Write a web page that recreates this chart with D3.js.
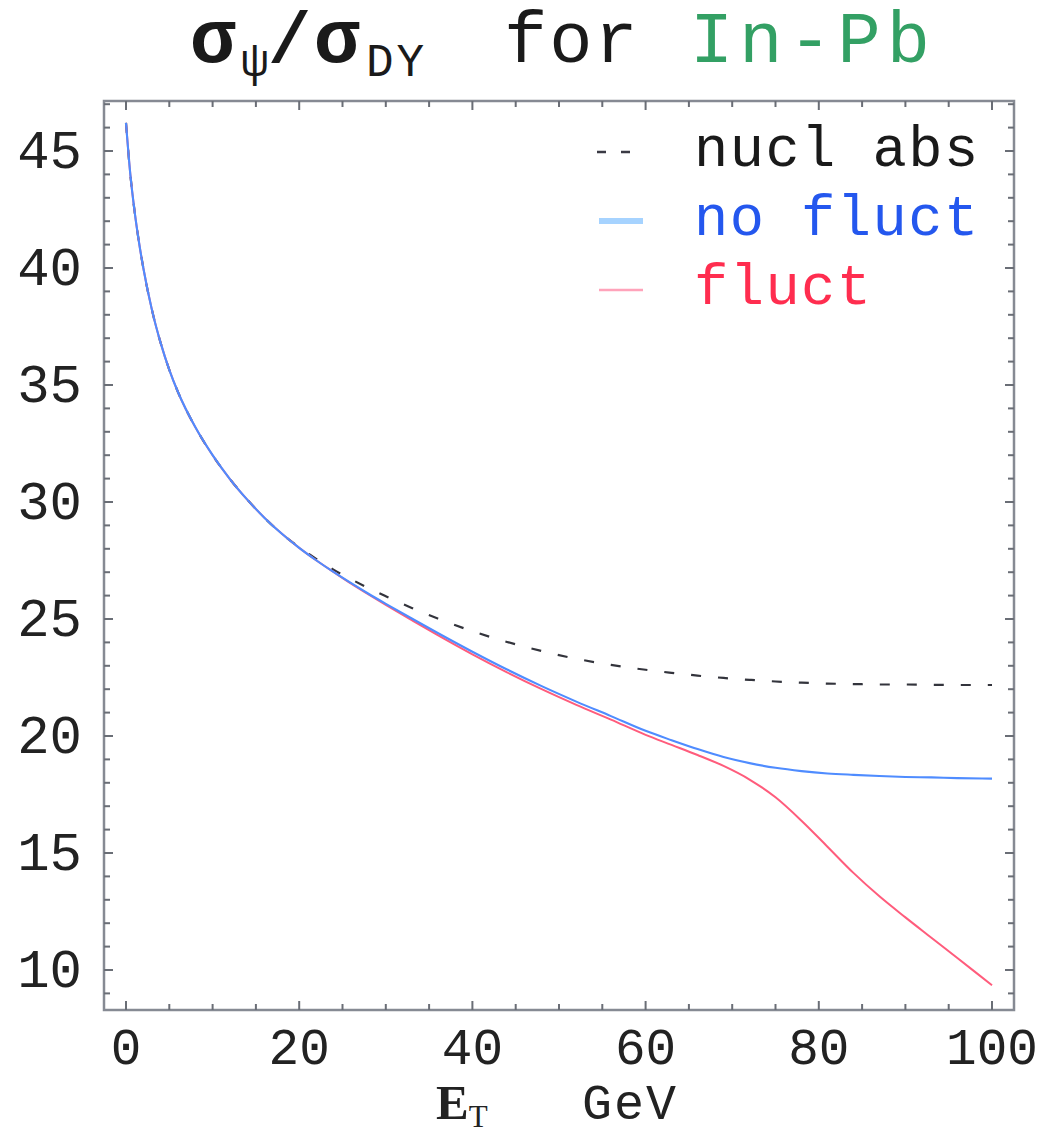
<!DOCTYPE html>
<html>
<head>
<meta charset="utf-8">
<script src="https://cdn.jsdelivr.net/npm/d3@7"></script>
<style>
  html, body { margin: 0; padding: 0; background: #fff; }
  svg { display: block; }
  text { font-family: "Liberation Mono", "DejaVu Sans Mono", monospace; }
</style>
</head>
<body>
<svg id="chart" width="1049" height="1135"></svg>
<script>
// ---- data ----
const etGrid = [0, 0.5, 1, 1.5, 2, 3, 4, 5, 6, 8, 10, 12, 14, 16, 18, 20, 22, 24, 26, 28,
                30, 33, 36, 40, 44, 48, 52, 56, 60, 63, 66, 69, 72, 75, 78, 81, 84, 87, 90, 93, 96, 100];
const noFluct = [46.2, 44.0, 42.4, 41.1, 40.0, 38.2, 36.8, 35.65, 34.7, 33.2, 32.0, 30.98, 30.1, 29.32, 28.64, 28.04, 27.5, 27.0, 26.53, 26.08,
                 25.65, 25.02, 24.4, 23.6, 22.84, 22.13, 21.47, 20.85, 20.22, 19.82, 19.44, 19.1, 18.84, 18.64, 18.5, 18.4, 18.34, 18.29, 18.25, 18.23, 18.2, 18.18];
const fluct   = [46.2, 44.0, 42.4, 41.1, 40.0, 38.2, 36.8, 35.65, 34.7, 33.2, 32.0, 30.98, 30.1, 29.32, 28.64, 28.04, 27.5, 27.0, 26.51, 26.05,
                 25.6, 24.95, 24.31, 23.49, 22.72, 22.0, 21.33, 20.7, 20.05, 19.62, 19.19, 18.72, 18.14, 17.38, 16.38, 15.27, 14.15, 13.15, 12.25, 11.38, 10.51, 9.35];
const nuclAbs = [46.2, 44.0, 42.4, 41.1, 40.0, 38.2, 36.8, 35.65, 34.7, 33.2, 32.0, 30.98, 30.1, 29.32, 28.64, 28.07, 27.56, 27.1, 26.7, 26.32,
                 25.97, 25.47, 25.02, 24.48, 24.02, 23.63, 23.3, 23.04, 22.83, 22.7, 22.58, 22.48, 22.4, 22.33, 22.28, 22.24, 22.22, 22.2, 22.2, 22.19, 22.18, 22.18];
const xTicks = [0, 20, 40, 60, 80, 100];
const yTicks = [10, 15, 20, 25, 30, 35, 40, 45];
const legendLabels = ["nucl abs", "no fluct", "fluct"];

// ---- layout ----
const svg = d3.select("#chart");
const frame = {left: 104, right: 1014, top: 101, bottom: 1010};
const x = d3.scaleLinear().domain([0, 100]).range([126, 992]);
const y = d3.scaleLinear().domain([10, 45]).range([970, 151]);

const frameColor = "#868a93";

// curves
const line = d3.line().x(d => x(d[0])).y(d => y(d[1])).curve(d3.curveMonotoneX);
const zip = vals => etGrid.map((e, i) => [e, vals[i]]);

const g = svg.append("g");
g.append("path").datum(zip(nuclAbs))
  .attr("d", line).attr("fill", "none")
  .attr("stroke", "#33343c").attr("stroke-width", 2.2)
  .attr("stroke-dasharray", "10,17");
g.append("path").datum(zip(fluct))
  .attr("d", line).attr("fill", "none")
  .attr("stroke", "#ff5c7c").attr("stroke-width", 2);
g.append("path").datum(zip(noFluct))
  .attr("d", line).attr("fill", "none")
  .attr("stroke", "#4f8cff").attr("stroke-width", 2.1);

// frame
svg.append("rect")
  .attr("x", frame.left).attr("y", frame.top)
  .attr("width", frame.right - frame.left).attr("height", frame.bottom - frame.top)
  .attr("fill", "none").attr("stroke", frameColor).attr("stroke-width", 2.5);

// ticks (inward, all four sides)
const xMinor = d3.range(0, 101, 5);
const yMinor = d3.range(9, 48, 1);
const tickG = svg.append("g").attr("stroke", "#6a6e76").attr("stroke-width", 2);
xMinor.forEach(v => {
  const len = xTicks.includes(v) ? 9 : 6;
  tickG.append("line").attr("x1", x(v)).attr("x2", x(v)).attr("y1", frame.bottom).attr("y2", frame.bottom - len);
  tickG.append("line").attr("x1", x(v)).attr("x2", x(v)).attr("y1", frame.top).attr("y2", frame.top + len);
});
yMinor.forEach(v => {
  if (y(v) < frame.top + 2 || y(v) > frame.bottom - 2) return;
  const len = yTicks.includes(v) ? 9 : 6;
  tickG.append("line").attr("y1", y(v)).attr("y2", y(v)).attr("x1", frame.left).attr("x2", frame.left + len);
  tickG.append("line").attr("y1", y(v)).attr("y2", y(v)).attr("x1", frame.right).attr("x2", frame.right - len);
});

// tick labels
svg.append("g").selectAll("text").data(xTicks).join("text")
  .attr("x", d => x(d)).attr("y", 1064)
  .attr("text-anchor", "middle").attr("font-size", 51).attr("fill", "#222")
  .text(d => d);
svg.append("g").selectAll("text").data(yTicks).join("text")
  .attr("x", 82).attr("y", d => y(d) + 17)
  .attr("text-anchor", "end").attr("font-size", 54).attr("fill", "#222")
  .text(d => d);

// axis label
const xl = svg.append("text").attr("x", 436).attr("y", 1119).attr("font-size", 50).attr("fill", "#222");
xl.append("tspan").attr("font-weight", "bold").attr("font-family", "Liberation Serif").attr("font-size", 49).text("E");
xl.append("tspan").attr("font-size", 31).attr("dy", 8).attr("font-family", "Liberation Serif").text("T");
xl.append("tspan").attr("x", 582).attr("dy", -8).attr("letter-spacing", 2).text("GeV");

// title
const t = svg.append("g").attr("fill", "#1a1a1a");
t.append("text").attr("x", 190).attr("y", 62).attr("font-size", 76).attr("font-weight", "bold").text("σ");
t.append("text").attr("x", 241).attr("y", 76).attr("font-size", 46).text("ψ");
t.append("text").attr("x", 268).attr("y", 62).attr("font-size", 72).attr("font-weight", "bold").text("/");
t.append("text").attr("x", 314).attr("y", 62).attr("font-size", 76).attr("font-weight", "bold").text("σ");
t.append("text").attr("x", 366).attr("y", 76).attr("font-size", 46).attr("letter-spacing", 3).text("DY");
t.append("text").attr("x", 504).attr("y", 62).attr("font-size", 72).attr("letter-spacing", 2).text("for");
t.append("text").attr("x", 690).attr("y", 62).attr("font-size", 72).attr("letter-spacing", 6).attr("fill", "#33a064").text("In-Pb");

// legend
const legend = svg.append("g");
const legendColors = ["#1a1a1a", "#2457ee", "#ff2d4f"];
const legendY = [152, 221, 290];
legend.append("line").attr("x1", 597).attr("x2", 640).attr("y1", legendY[0]).attr("y2", legendY[0])
  .attr("stroke", "#3a3a44").attr("stroke-width", 2.4).attr("stroke-dasharray", "9,15");
legend.append("line").attr("x1", 599).attr("x2", 643).attr("y1", legendY[1]).attr("y2", legendY[1])
  .attr("stroke", "#a6d3ff").attr("stroke-width", 6);
legend.append("line").attr("x1", 599).attr("x2", 643).attr("y1", legendY[2]).attr("y2", legendY[2])
  .attr("stroke", "#ffa3ba").attr("stroke-width", 2.5);
legend.selectAll("text").data(legendLabels).join("text")
  .attr("x", 694).attr("y", (d, i) => legendY[i] + 14)
  .attr("font-size", 57).attr("letter-spacing", 1.5).attr("fill", (d, i) => legendColors[i])
  .text(d => d);
</script>
</body>
</html>
